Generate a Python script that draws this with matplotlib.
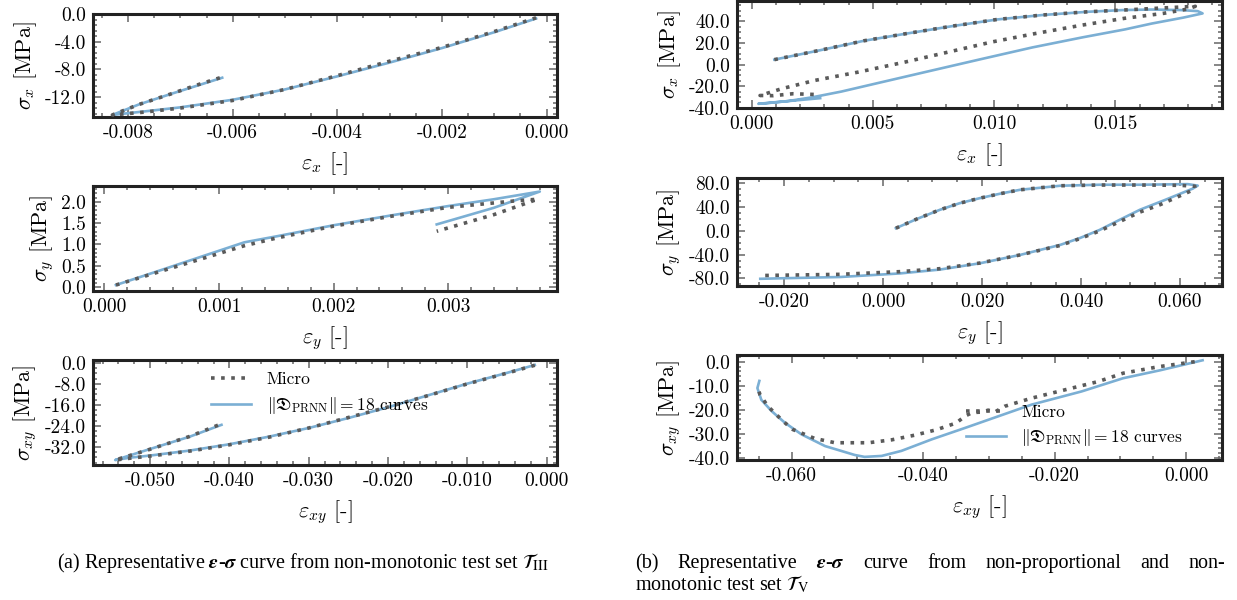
import matplotlib
matplotlib.use("Agg")
import matplotlib.pyplot as plt
from matplotlib.ticker import MultipleLocator, AutoMinorLocator, FuncFormatter

plt.rcParams['font.family'] = ['cmr10', 'DejaVu Serif']
plt.rcParams['mathtext.fontset'] = 'cm'
plt.rcParams['axes.unicode_minus'] = False

# ---- (a) non-monotonic test set, eps_x / sig_x
a1_prnn_x = [-0.0002, -0.0010, -0.0020, -0.0030, -0.0040, -0.0050, -0.0060, -0.0070,
             -0.0077, -0.0083, -0.0078, -0.0072, -0.0067, -0.0062]
a1_prnn_y = [-0.6, -2.6, -4.9, -7.0, -9.0, -10.9, -12.4, -13.5, -14.1, -14.6,
             -13.1, -11.6, -10.4, -9.2]
a1_micro_x = a1_prnn_x
a1_micro_y = [-0.5, -2.5, -4.8, -6.8, -8.9, -10.9, -12.5, -13.6, -14.2, -14.6,
              -13.1, -11.6, -10.3, -9.1]

# eps_y / sig_y
a2_prnn_x = [0.0001, 0.00055, 0.00122, 0.0015, 0.00175, 0.0020, 0.0025, 0.0030, 0.0034,
             0.0038, 0.0034, 0.0029]
a2_prnn_y = [0.05, 0.45, 1.05, 1.19, 1.32, 1.45, 1.68, 1.90, 2.06, 2.24, 1.86, 1.47]
a2_micro_x = [0.0001, 0.00055, 0.00122, 0.0015, 0.00175, 0.0020, 0.0025, 0.0030, 0.00358,
              0.00378, 0.0034, 0.0029]
a2_micro_y = [0.05, 0.42, 0.97, 1.15, 1.29, 1.43, 1.66, 1.87, 2.02, 2.06, 1.70, 1.31]

# eps_xy / sig_xy
a3_prnn_x = [-0.0015, -0.0050, -0.0100, -0.0150, -0.0200, -0.0250, -0.0300, -0.0350,
             -0.0400, -0.0450, -0.0500, -0.0525, -0.0544, -0.0500, -0.0450, -0.0410]
a3_prnn_y = [-0.8, -3.8, -7.9, -12.4, -16.9, -21.0, -24.8, -28.1, -31.0, -33.4, -35.3,
             -36.1, -37.0, -32.8, -28.1, -23.6]
a3_micro_x = a3_prnn_x
a3_micro_y = [-0.9, -3.9, -8.0, -12.5, -16.8, -20.8, -24.8, -28.3, -31.2, -33.6, -35.5,
              -36.3, -37.0, -32.9, -28.0, -23.2]

# ---- (b) non-proportional and non-monotonic test set
b1_prnn_x = [0.00094, 0.00283, 0.00462, 0.00641, 0.00827, 0.01013, 0.01199, 0.01385,
             0.01530, 0.0165, 0.0177, 0.0184, 0.0186, 0.0178, 0.0165, 0.0154, 0.01364,
             0.01158, 0.00951, 0.00745, 0.00538, 0.0037, 0.0025, 0.0015, 0.0006,
             0.00028, 0.00283]
b1_prnn_y = [4.6, 13.3, 22.0, 28.8, 35.6, 41.8, 45.9, 48.9, 50.5, 51.0, 50.5, 49.5,
             47.4, 43.5, 38.0, 32.6, 25.2, 15.9, 5.3, -5.4, -16.2, -25.0, -30.3, -33.8,
             -35.8, -36.3, -31.1]
b1_micro_x = [0.00094, 0.00283, 0.00462, 0.00641, 0.00827, 0.01013, 0.01199, 0.01385,
              0.01530, 0.0170, 0.0183, 0.0180, 0.0170, 0.01536, 0.01364, 0.01171,
              0.00992, 0.00813, 0.00634, 0.00441, 0.00262, 0.00125, 0.00035, 0.0009,
              0.0017, 0.0028]
b1_micro_y = [4.6, 13.3, 22.0, 28.8, 35.6, 41.8, 45.9, 48.9, 50.5, 52.5, 54.0, 51.5,
              47.5, 42.8, 36.6, 28.8, 21.0, 11.7, 2.4, -6.9, -14.6, -22.3, -28.6, -28.8,
              -27.0, -27.8]

b2_prnn_x = [0.0026, 0.0070, 0.0115, 0.0155, 0.0196, 0.0237, 0.0277, 0.0358, 0.0438,
             0.0519, 0.0616, 0.0636, 0.0626, 0.0570, 0.0519, 0.0478, 0.0438, 0.0398,
             0.0358, 0.0277, 0.0196, 0.0115, 0.0034, -0.0087, -0.0208, -0.0248]
b2_prnn_y = [4.5, 20.5, 35.4, 46.5, 55.0, 62.5, 69.0, 75.8, 77.5, 77.5, 78.5, 76.0,
             71.0, 52.0, 35.4, 18.5, 1.7, -12.0, -23.6, -40.4, -54.4, -65.0, -71.5,
             -77.5, -79.7, -80.5]
b2_micro_x = [0.0026, 0.0070, 0.0115, 0.0155, 0.0196, 0.0237, 0.0277, 0.0358, 0.0438,
              0.0519, 0.0600, 0.0630, 0.0630, 0.0560, 0.0519, 0.0478, 0.0438, 0.0398,
              0.0358, 0.0277, 0.0196, 0.0115, 0.0034, -0.0087, -0.0208, -0.0245]
b2_micro_y = [4.5, 20.5, 35.4, 46.5, 55.0, 62.5, 69.0, 75.8, 77.0, 77.0, 76.5, 75.0,
              70.0, 44.0, 31.5, 15.5, 0.0, -13.0, -24.5, -40.4, -54.0, -63.5, -68.5,
              -73.0, -74.5, -75.0]

b3_prnn_x = [0.0025, -0.0040, -0.0096, -0.0159, -0.0235, -0.0286, -0.0336, -0.0387,
             -0.0433, -0.0463, -0.0489, -0.0504, -0.0549, -0.0585, -0.0610, -0.0630,
             -0.0646, -0.0652, -0.0649]
b3_prnn_y = [0.6, -3.6, -6.9, -12.4, -17.9, -22.8, -27.6, -32.4, -37.2, -39.3, -39.7,
             -38.9, -35.2, -30.3, -25.5, -20.7, -15.9, -11.0, -8.0]
b3_micro_x = [0.0013, -0.0040, -0.0096, -0.0134, -0.0184, -0.0235, -0.0276, -0.0291,
              -0.0301, -0.0310, -0.0325, -0.0335, -0.0350, -0.0380, -0.0412, -0.0448,
              -0.0483, -0.0534, -0.0565, -0.0598, -0.0613, -0.0636, -0.0648, -0.0652]
b3_micro_y = [0.0, -2.0, -4.8, -8.3, -11.7, -15.2, -18.6, -21.0, -20.2, -21.0, -21.2,
              -22.5, -25.6, -28.4, -30.6, -32.6, -33.8, -33.8, -32.0, -28.3, -24.8,
              -18.6, -13.8, -10.3]

MICRO = dict(color='#5a5a5a', lw=2.6, ls=(0, (1, 1.8)), zorder=3)
PRNN = dict(color='#7bafd4', lw=1.9, zorder=2)
LBL_PRNN = r"$\|\mathfrak{D}_{\mathrm{PRNN}}\| = 18$ curves"


def fmt(dec):
    def f(v, pos):
        if abs(v) < 1e-12:
            v = 0.0
        return f"{v:.{dec}f}"
    return FuncFormatter(f)


def style(ax, xstep, xdec, xsub, ystep, ydec, ysub):
    ax.xaxis.set_major_locator(MultipleLocator(xstep))
    ax.yaxis.set_major_locator(MultipleLocator(ystep))
    ax.xaxis.set_minor_locator(AutoMinorLocator(xsub))
    ax.yaxis.set_minor_locator(AutoMinorLocator(ysub))
    ax.xaxis.set_major_formatter(fmt(xdec))
    ax.yaxis.set_major_formatter(fmt(ydec))
    ax.tick_params(which='both', direction='in', top=True, right=True,
                   color='#666666', width=1.1, labelsize=14, pad=5)
    ax.tick_params(which='major', length=5.5)
    ax.tick_params(which='minor', length=3)
    for s in ax.spines.values():
        s.set_linewidth(2.2)
        s.set_color('#222222')


def panel(rect, mx, my, px, py, xlab, ylab, xlim, ylim, ticks):
    ax = fig.add_axes(rect)
    ax.plot(mx, my, label='Micro', **MICRO)
    ax.plot(px, py, label=LBL_PRNN, **PRNN)
    ax.set_xlim(*xlim)
    ax.set_ylim(*ylim)
    ax.set_xlabel(xlab, fontsize=16, labelpad=6)
    ax.set_ylabel(ylab, fontsize=16, labelpad=4)
    style(ax, *ticks)
    return ax


W, H = 1237, 600
fig = plt.figure(figsize=(W / 100, H / 100), dpi=100)

L0, LW = 93 / W, 464 / W
R0, RW = 737 / W, 485 / W

panel([L0, 1 - 117 / H, LW, 103 / H], a1_micro_x, a1_micro_y, a1_prnn_x, a1_prnn_y,
      r"$\varepsilon_x$ [-]", r"$\sigma_x$ [MPa]", (-0.00867, 0.0002), (-14.9, 0.05),
      (0.002, 3, 4, 4.0, 1, 5))
panel([L0, 1 - 291 / H, LW, 105 / H], a2_micro_x, a2_micro_y, a2_prnn_x, a2_prnn_y,
      r"$\varepsilon_y$ [-]", r"$\sigma_y$ [MPa]", (-0.0001, 0.00395), (-0.09, 2.37),
      (0.001, 3, 5, 0.5, 1, 5))
ax_a3 = panel([L0, 1 - 465 / H, LW, 105 / H], a3_micro_x, a3_micro_y, a3_prnn_x, a3_prnn_y,
              r"$\varepsilon_{xy}$ [-]", r"$\sigma_{xy}$ [MPa]", (-0.0572, 0.0013), (-38.9, 1.1),
              (0.01, 3, 5, 8.0, 1, 4))

panel([R0, 1 - 108 / H, RW, 107 / H], b1_micro_x, b1_micro_y, b1_prnn_x, b1_prnn_y,
      r"$\varepsilon_x$ [-]", r"$\sigma_x$ [MPa]", (-0.0006, 0.0194), (-40.2, 58.9),
      (0.005, 3, 5, 20.0, 1, 4))
panel([R0, 1 - 286 / H, RW, 108 / H], b2_micro_x, b2_micro_y, b2_prnn_x, b2_prnn_y,
      r"$\varepsilon_y$ [-]", r"$\sigma_y$ [MPa]", (-0.0295, 0.0685), (-92.6, 88.8),
      (0.02, 3, 4, 40.0, 1, 4))
ax_b3 = panel([R0, 1 - 460 / H, RW, 105 / H], b3_micro_x, b3_micro_y, b3_prnn_x, b3_prnn_y,
              r"$\varepsilon_{xy}$ [-]", r"$\sigma_{xy}$ [MPa]", (-0.0683, 0.00545), (-41.0, 2.8),
              (0.02, 3, 4, 10.0, 1, 5))

for ax, anchor in [(ax_a3, (0.255, 0.675)), (ax_b3, (0.472, 0.32))]:
    ax.legend(loc='center left', bbox_to_anchor=anchor, frameon=False, fontsize=12.5,
              handlelength=2.3, handletextpad=0.9, labelspacing=0.45,
              borderpad=0, borderaxespad=0)

# captions
CAP = dict(fontsize=14.5, family='Liberation Serif', math_fontfamily='stix', va='baseline')
EPS_SIG = r"$\mathbfit{\varepsilon}$-$\mathbfit{\sigma}$"
fig.text(57 / W, 1 - 568 / H,
         "(a) Representative " + EPS_SIG + r" curve from non-monotonic test set $\mathcal{T}_{\mathrm{III}}$",
         **CAP)

words = ["(b)", "Representative", EPS_SIG, "curve", "from", "non-proportional", "and", "non-"]
renderer = fig.canvas.get_renderer()
texts = [fig.text(0, 1 - 568 / H, w, **CAP) for w in words]
widths = [t.get_window_extent(renderer).width for t in texts]
gap = ((1225 - 635) - sum(widths)) / (len(words) - 1)
xpos = 635
for t, w in zip(texts, widths):
    t.set_x(xpos / W)
    xpos += w + gap
fig.text(635 / W, 1 - 590 / H, r"monotonic test set $\mathcal{T}_{\mathrm{V}}$", **CAP)

fig.savefig("out.png", dpi=100)
